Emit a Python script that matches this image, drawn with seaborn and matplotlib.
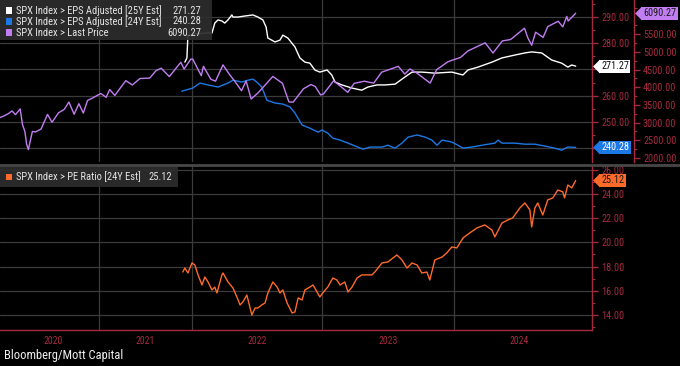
import numpy as np
import pandas as pd
import matplotlib
matplotlib.use("Agg")
import matplotlib.pyplot as plt
import matplotlib.dates as mdates
import matplotlib.transforms as mtrans
from matplotlib import font_manager as fm
from matplotlib.patches import Rectangle
from matplotlib.lines import Line2D
import seaborn as sns

# ---------------- data ----------------
price_dates = ["2019-11-29", "2019-12-16", "2020-01-02", "2020-01-17", "2020-01-31", "2020-02-19",
               "2020-02-28", "2020-03-09", "2020-03-16", "2020-03-23", "2020-04-08", "2020-04-21",
               "2020-05-13", "2020-06-08", "2020-06-26", "2020-07-22", "2020-08-14", "2020-09-02",
               "2020-09-23", "2020-10-12", "2020-10-30", "2020-11-16", "2020-12-08", "2021-01-08",
               "2021-01-29", "2021-02-12", "2021-03-04", "2021-04-16", "2021-05-12", "2021-06-11",
               "2021-07-19", "2021-08-13", "2021-09-02", "2021-10-04", "2021-11-18", "2021-12-01",
               "2021-12-27", "2022-01-03", "2022-01-27", "2022-02-02", "2022-02-23", "2022-03-08",
               "2022-03-29", "2022-04-14", "2022-05-02", "2022-05-20", "2022-06-02", "2022-06-16",
               "2022-07-06", "2022-08-16", "2022-09-12", "2022-09-30", "2022-10-12", "2022-11-10",
               "2022-12-01", "2022-12-13", "2022-12-28", "2023-01-05", "2023-02-02", "2023-02-23",
               "2023-03-13", "2023-03-31", "2023-04-28", "2023-05-24", "2023-06-15", "2023-07-31",
               "2023-08-18", "2023-09-01", "2023-09-20", "2023-10-27", "2023-11-14", "2023-12-15",
               "2023-12-29", "2024-01-19", "2024-02-09", "2024-03-28", "2024-04-19", "2024-05-15",
               "2024-06-07", "2024-07-16", "2024-07-25", "2024-08-05", "2024-08-16", "2024-09-06",
               "2024-09-19", "2024-10-18", "2024-10-31", "2024-11-11", "2024-11-15", "2024-12-06"]
price_vals = [3141, 3190, 3250, 3330, 3225, 3386,
              2954, 2746, 2386, 2237, 2750, 2736,
              2820, 3232, 3009, 3276, 3372, 3580,
              3237, 3534, 3270, 3627, 3702, 3824,
              3714, 3934, 3768, 4185, 4063, 4247,
              4258, 4468, 4537, 4300, 4704, 4513,
              4791, 4796, 4326, 4589, 4225, 4170,
              4631, 4392, 4155, 3901, 4176, 3667,
              3845, 4305, 4110, 3586, 3577, 3956,
              4076, 4019, 3783, 3808, 4179, 4012,
              3855, 4109, 4169, 4115, 4425, 4589,
              4370, 4515, 4402, 4117, 4496, 4719,
              4770, 4840, 5026, 5254, 4967, 5308,
              5347, 5667, 5400, 5186, 5554, 5408,
              5713, 5864, 5705, 6001, 5870, 6090.27]

eps25_dates = ["2021-12-04", "2021-12-12", "2021-12-16", "2022-01-09", "2022-02-06", "2022-02-26",
               "2022-03-06", "2022-03-15", "2022-03-26", "2022-04-03", "2022-04-12", "2022-04-23",
               "2022-04-26", "2022-05-10", "2022-05-30", "2022-06-21", "2022-07-05", "2022-07-19",
               "2022-07-28", "2022-08-02", "2022-08-22", "2022-09-05", "2022-09-13", "2022-09-27",
               "2022-10-17", "2022-10-31", "2022-11-14", "2022-11-28", "2022-12-12", "2022-12-26",
               "2023-01-15", "2023-01-28", "2023-02-06", "2023-02-25", "2023-03-25", "2023-04-21",
               "2023-05-08", "2023-06-02", "2023-06-24", "2023-07-22", "2023-08-18", "2023-09-07",
               "2023-10-04", "2023-11-09", "2023-12-26", "2024-01-26", "2024-02-09", "2024-03-08",
               "2024-04-16", "2024-05-14", "2024-06-19", "2024-07-17", "2024-08-05", "2024-09-02",
               "2024-09-30", "2024-10-28", "2024-11-14", "2024-11-25", "2024-12-06"]
eps25_vals = [272.8, 274.4, 283.1, 283.5, 283.9, 283.9,
              287.7, 288.9, 288.5, 287.7, 288.9, 290.8,
              290.0, 290.0, 290.4, 290.8, 290.0, 288.9,
              286.2, 282.0, 280.5, 281.2, 283.1, 282.0,
              278.6, 274.4, 272.8, 272.4, 269.8, 269.0,
              269.8, 267.9, 265.2, 264.1, 262.9, 262.1,
              263.3, 264.1, 264.1, 264.4, 267.1, 269.0,
              269.0, 268.6, 269.0, 267.9, 269.8, 270.9,
              272.8, 274.4, 275.5, 276.3, 276.7, 276.3,
              273.6, 272.4, 270.9, 271.7, 271.27]

eps24_dates = ["2021-11-22", "2022-01-03", "2022-01-23", "2022-02-15", "2022-03-15", "2022-04-12",
               "2022-04-26", "2022-05-21", "2022-06-07", "2022-06-21", "2022-07-02", "2022-07-16",
               "2022-07-30", "2022-08-22", "2022-09-13", "2022-10-03", "2022-10-17", "2022-11-06",
               "2022-11-28", "2022-12-21", "2023-01-01", "2023-01-17", "2023-01-31", "2023-02-20",
               "2023-03-14", "2023-04-10", "2023-04-24", "2023-05-14", "2023-06-16", "2023-07-02",
               "2023-07-22", "2023-08-10", "2023-08-27", "2023-09-21", "2023-10-13", "2023-11-01",
               "2023-11-15", "2023-11-29", "2023-12-26", "2024-01-12", "2024-01-26", "2024-02-20",
               "2024-03-19", "2024-04-24", "2024-05-03", "2024-05-14", "2024-06-19", "2024-07-17",
               "2024-08-14", "2024-09-10", "2024-10-08", "2024-10-28", "2024-11-14", "2024-12-06"]
eps24_vals = [261.7, 262.9, 264.8, 264.1, 263.3, 264.8,
              265.9, 265.2, 265.9, 266.3, 265.2, 263.3,
              258.3, 257.2, 256.8, 255.7, 253.4, 248.8,
              247.6, 246.1, 246.9, 245.7, 243.8, 243.05,
              241.9, 240.4, 239.6, 240.4, 240.4, 241.1,
              240.0, 241.9, 244.2, 245.0, 244.2, 243.05,
              241.1, 243.05, 242.3, 241.1, 240.0, 240.4,
              241.1, 241.9, 243.05, 241.9, 241.9, 241.5,
              241.5, 240.8, 240.0, 239.2, 240.4, 240.28]

pe_dates = ["2021-11-26", "2021-12-04", "2021-12-16", "2022-01-01", "2022-01-09", "2022-01-18",
            "2022-01-29", "2022-02-06", "2022-02-15", "2022-02-26", "2022-03-06", "2022-03-12",
            "2022-03-26", "2022-03-29", "2022-04-12", "2022-04-26", "2022-05-07", "2022-05-16",
            "2022-05-24", "2022-06-04", "2022-06-18", "2022-06-27", "2022-07-05", "2022-07-16",
            "2022-07-25", "2022-08-02", "2022-08-16", "2022-08-28", "2022-09-05", "2022-09-13",
            "2022-09-25", "2022-10-09", "2022-10-17", "2022-10-26", "2022-11-06", "2022-11-14",
            "2022-11-28", "2022-12-07", "2022-12-18", "2022-12-26", "2023-01-03", "2023-01-17",
            "2023-01-31", "2023-02-11", "2023-02-20", "2023-03-05", "2023-03-14", "2023-03-25",
            "2023-04-08", "2023-04-21", "2023-05-05", "2023-05-19", "2023-05-27", "2023-06-16",
            "2023-07-02", "2023-07-27", "2023-08-10", "2023-08-24", "2023-09-07", "2023-09-21",
            "2023-10-04", "2023-10-18", "2023-10-26", "2023-11-09", "2023-11-29", "2023-12-12",
            "2023-12-26", "2024-01-09", "2024-01-26", "2024-02-14", "2024-03-05", "2024-03-27",
            "2024-04-16", "2024-04-24", "2024-05-14", "2024-05-30", "2024-06-13", "2024-07-03",
            "2024-07-17", "2024-07-31", "2024-08-05", "2024-08-14", "2024-08-22", "2024-09-05",
            "2024-09-19", "2024-10-03", "2024-10-17", "2024-10-31", "2024-11-05", "2024-11-14",
            "2024-11-25", "2024-12-06"]
pe_vals = [17.55, 17.88, 17.47, 18.30, 18.13, 17.31,
           16.48, 17.14, 16.73, 16.07, 16.31, 15.82,
           17.31, 17.47, 16.73, 16.23, 15.49, 14.83,
           15.08, 15.65, 14.00, 14.58, 14.58, 14.83,
           14.99, 15.82, 16.73, 16.31, 15.82, 16.07,
           14.99, 14.17, 14.25, 15.41, 15.24, 16.07,
           16.31, 16.48, 15.90, 15.49, 15.82, 16.31,
           17.06, 16.89, 16.48, 16.73, 15.90, 16.31,
           17.06, 17.31, 17.31, 17.31, 17.55, 18.30,
           18.38, 18.96, 18.55, 17.88, 18.30, 18.13,
           17.47, 17.55, 16.89, 18.55, 18.79, 19.13,
           19.62, 19.54, 20.36, 20.78, 21.19, 21.44,
           21.02, 20.45, 21.60, 21.85, 22.02, 22.84,
           23.26, 22.68, 21.27, 22.84, 23.26, 22.26,
           23.51, 23.67, 24.33, 24.17, 23.67, 24.74,
           24.50, 25.12]

year_labels = ["2020", "2021", "2022", "2023", "2024"]
year_widths = [91, 93, 130, 132, 131]   # relative width of each calendar year on the time axis

label_e25 = "SPX Index > EPS Adjusted [25Y Est]"
label_e24 = "SPX Index > EPS Adjusted [24Y Est]"
label_px = "SPX Index > Last Price"
label_pe = "SPX Index > PE Ratio [24Y Est]"
source = "Bloomberg/Mott Capital"

# ---------------- style ----------------
sns.set_style("dark", {"axes.facecolor": "black", "figure.facecolor": "black"})
_avail = {f.name for f in fm.fontManager.ttflist}
if "Roboto Condensed" in _avail:
    FAMILY = ["Roboto Condensed", "Liberation Sans", "DejaVu Sans"]
    FS_TICK, FS_LEG, FS_TAG, FS_YEAR, FS_SRC = 7.4, 7.6, 7.4, 7.0, 9.0
else:
    FAMILY = ["Liberation Sans", "DejaVu Sans"]
    FS_TICK, FS_LEG, FS_TAG, FS_YEAR, FS_SRC = 6.5, 6.5, 6.7, 6.4, 8.2
plt.rcParams["font.family"] = FAMILY

AXC = "#a52a40"
GRID = "#3b3b3b"
C_PRICE = "#c17ef3"
C_E25 = "#ffffff"
C_E24 = "#1c78e6"
C_PE = "#ff6a2a"
TXT = "#e4e4e4"
LW = 1.0


def to_num(ds):
    return mdates.date2num(pd.to_datetime(pd.Series(ds)).dt.to_pydatetime())


W, H = 680, 366
fig = plt.figure(figsize=(W / 100, H / 100), dpi=100, facecolor="black")


def fx(x):
    return x / W


def fy(y):
    return 1 - y / H


ax_top = fig.add_axes([0, fy(162), fx(592), 162 / H])
ax_bot = fig.add_axes([0, fy(330), fx(592), 164 / H], sharex=ax_top)
for a in (ax_top, ax_bot):
    a.set_facecolor("black")

# non-uniform time scale: each calendar year gets its own width
year_bounds = to_num([f"{y}-01-01" for y in range(2020, 2026)])
pos = np.concatenate([[0.0], np.cumsum(year_widths)]).astype(float)
s0 = year_widths[0] / (year_bounds[1] - year_bounds[0])
s1 = year_widths[-1] / (year_bounds[-1] - year_bounds[-2])
b_ext = np.r_[year_bounds[0] - 5000, year_bounds, year_bounds[-1] + 5000]
p_ext = np.r_[pos[0] - 5000 * s0, pos, pos[-1] + 5000 * s1]


def fwd(x):
    return np.interp(x, b_ext, p_ext)


def inv(p):
    return np.interp(p, p_ext, b_ext)


ax_top.set_xscale("function", functions=(fwd, inv))

ax_px = ax_top.twinx()

df_e25 = pd.DataFrame({"date": to_num(eps25_dates), "v": eps25_vals})
df_e24 = pd.DataFrame({"date": to_num(eps24_dates), "v": eps24_vals})
df_px = pd.DataFrame({"date": to_num(price_dates), "v": price_vals})
df_pe = pd.DataFrame({"date": to_num(pe_dates), "v": pe_vals})

sns.lineplot(data=df_e24, x="date", y="v", ax=ax_top, color=C_E24, linewidth=LW, errorbar=None)
sns.lineplot(data=df_e25, x="date", y="v", ax=ax_top, color=C_E25, linewidth=LW, errorbar=None)
sns.lineplot(data=df_px, x="date", y="v", ax=ax_px, color=C_PRICE, linewidth=LW, errorbar=None)
sns.lineplot(data=df_pe, x="date", y="v", ax=ax_bot, color=C_PE, linewidth=LW, errorbar=None)

for a in (ax_top, ax_px, ax_bot):
    a.set_xlabel("")
    a.set_ylabel("")

# vertical year grid lines
for a in (ax_top, ax_bot):
    for b in year_bounds[1:5]:
        a.axvline(b, color=GRID, lw=0.9, zorder=0.5)

# ---------- y axes ----------
ax_top.yaxis.tick_right()
eps_ticks = [240, 250, 260, 270, 280, 290]
ax_top.set_yticks(eps_ticks)
ax_top.set_yticklabels(["" if t in (240, 270) else f"{t:.2f}" for t in eps_ticks])
ax_top.set_yticks(np.arange(245, 296, 10), minor=True)
ax_top.grid(axis="y", which="major", color=GRID, lw=0.9)
ax_top.grid(axis="x", visible=False)

px_ticks = list(range(2000, 6000, 500))
ax_px.set_yticks(px_ticks)
ax_px.set_yticklabels([f"{t:.2f}" for t in px_ticks])
ax_px.set_yticks(np.arange(2250, 6300, 500), minor=True)
ax_px.spines["right"].set_position(("outward", 42 * 0.72))
ax_px.grid(False)

ax_bot.yaxis.tick_right()
pe_ticks = list(range(14, 27, 2))
ax_bot.set_yticks(pe_ticks)
ax_bot.set_yticklabels([f"{t:.2f}" for t in pe_ticks])
ax_bot.set_yticks(np.arange(13, 26, 2), minor=True)
ax_bot.grid(axis="y", which="major", color=GRID, lw=0.9)
ax_bot.grid(axis="x", visible=False)

for a in (ax_top, ax_px, ax_bot):
    a.tick_params(axis="y", which="major", direction="out", length=4, width=1,
                  color=AXC, labelcolor=AXC, labelsize=FS_TICK, pad=2.5)
    a.tick_params(axis="y", which="minor", direction="out", length=2.5, width=0.8, color=AXC)
    for side in ("left", "top", "bottom"):
        a.spines[side].set_visible(False)
    a.spines["right"].set_visible(True)
    a.spines["right"].set_color(AXC)
    a.spines["right"].set_linewidth(1.0)

ax_bot.spines["bottom"].set_visible(True)
ax_bot.spines["bottom"].set_color(AXC)
ax_bot.spines["bottom"].set_linewidth(1.0)

# ---------- x axis ----------
quarters = to_num([f"{y}-{m:02d}-01" for y in range(2020, 2025) for m in (4, 7, 10)])
ax_bot.set_xticks(year_bounds)
ax_bot.set_xticks(quarters, minor=True)
ax_bot.tick_params(axis="x", which="major", direction="out", length=11, width=1,
                   color=AXC, labelbottom=False)
ax_bot.tick_params(axis="x", which="minor", direction="in", length=3, width=0.8, color=AXC)
ax_top.tick_params(axis="x", which="both", length=0, labelbottom=False)
ax_px.tick_params(axis="x", which="both", length=0, labelbottom=False)

xtrans = mtrans.blended_transform_factory(ax_bot.transData, ax_bot.transAxes)
mid_years = to_num([f"{y}-07-02" for y in year_labels])
for m, lab in zip(mid_years, year_labels):
    ax_bot.text(m, -10.5 / 164, lab, transform=xtrans, ha="center", va="center",
                color=AXC, fontsize=FS_YEAR)

ax_top.set_xlim(inv(-8), inv(584))
ax_top.set_ylim(234.7, 296.5)
ax_px.set_ylim(1887, 6464)
ax_bot.set_ylim(12.76, 26.31)

# ---------- value tags ----------
TRI = [(-0.5, 0), (0.5, 1), (0.5, -1)]


def add_tag(ax, val, fc, tc, outward_px=0):
    base = mtrans.blended_transform_factory(ax.transAxes, ax.transData)
    tri = mtrans.offset_copy(base, fig=fig, x=(outward_px + 4.0) * 0.72, y=0, units="points")
    ax.plot([1], [val], transform=tri, marker=TRI, ms=10, color=fc, mec="none",
            clip_on=False, zorder=10)
    ax.annotate(f"{val:.2f}", xy=(1, val), xycoords=base,
                xytext=((outward_px + 9) * 0.72, 0), textcoords="offset points",
                ha="left", va="center", fontsize=FS_TAG, color=tc,
                bbox=dict(boxstyle="square,pad=0.15", fc=fc, ec="none"),
                annotation_clip=False, zorder=10)


add_tag(ax_top, eps25_vals[-1], C_E25, "#111111")
add_tag(ax_top, eps24_vals[-1], C_E24, "#ffffff")
add_tag(ax_px, price_vals[-1], C_PRICE, "#1a1a1a", outward_px=42)
add_tag(ax_bot, pe_vals[-1], C_PE, "#1a1a1a")

# ---------- legends ----------
fig.add_artist(Rectangle((0, fy(40)), fx(212), 40 / H, transform=fig.transFigure,
                         fc="#2d2d2d", ec="none", alpha=0.93, zorder=20))
rows = [(label_e25, eps25_vals[-1], C_E25),
        (label_e24, eps24_vals[-1], C_E24),
        (label_px, price_vals[-1], C_PRICE)]
for i, (lab, val, c) in enumerate(rows):
    yc = 10.5 + 11 * i
    fig.add_artist(Rectangle((fx(6), fy(yc + 3)), fx(6), 6 / H, transform=fig.transFigure,
                             fc=c, ec="none", zorder=21))
    fig.text(fx(16), fy(yc), lab, ha="left", va="center", color=TXT, fontsize=FS_LEG, zorder=22)
    fig.text(fx(201), fy(yc), f"{val:.2f}", ha="right", va="center", color=TXT,
             fontsize=FS_LEG, zorder=22)

fig.add_artist(Rectangle((0, fy(187)), fx(178), 20 / H, transform=fig.transFigure,
                         fc="#2d2d2d", ec="none", alpha=0.93, zorder=20))
fig.add_artist(Rectangle((fx(6), fy(180)), fx(6), 6 / H, transform=fig.transFigure,
                         fc=C_PE, ec="none", zorder=21))
fig.text(fx(16), fy(177), label_pe, ha="left", va="center", color=TXT, fontsize=FS_LEG, zorder=22)
fig.text(fx(172), fy(177), f"{pe_vals[-1]:.2f}", ha="right", va="center", color=TXT,
         fontsize=FS_LEG, zorder=22)

# separator between the panels
fig.add_artist(Line2D([0, 1], [fy(164.5), fy(164.5)], transform=fig.transFigure,
                      color="#474747", lw=2.0, zorder=15))

# footer
fig.text(fx(4), fy(356), source, ha="left", va="center", color="#f0f0f0", fontsize=FS_SRC)

fig.savefig("out.png", dpi=100, facecolor="black")
